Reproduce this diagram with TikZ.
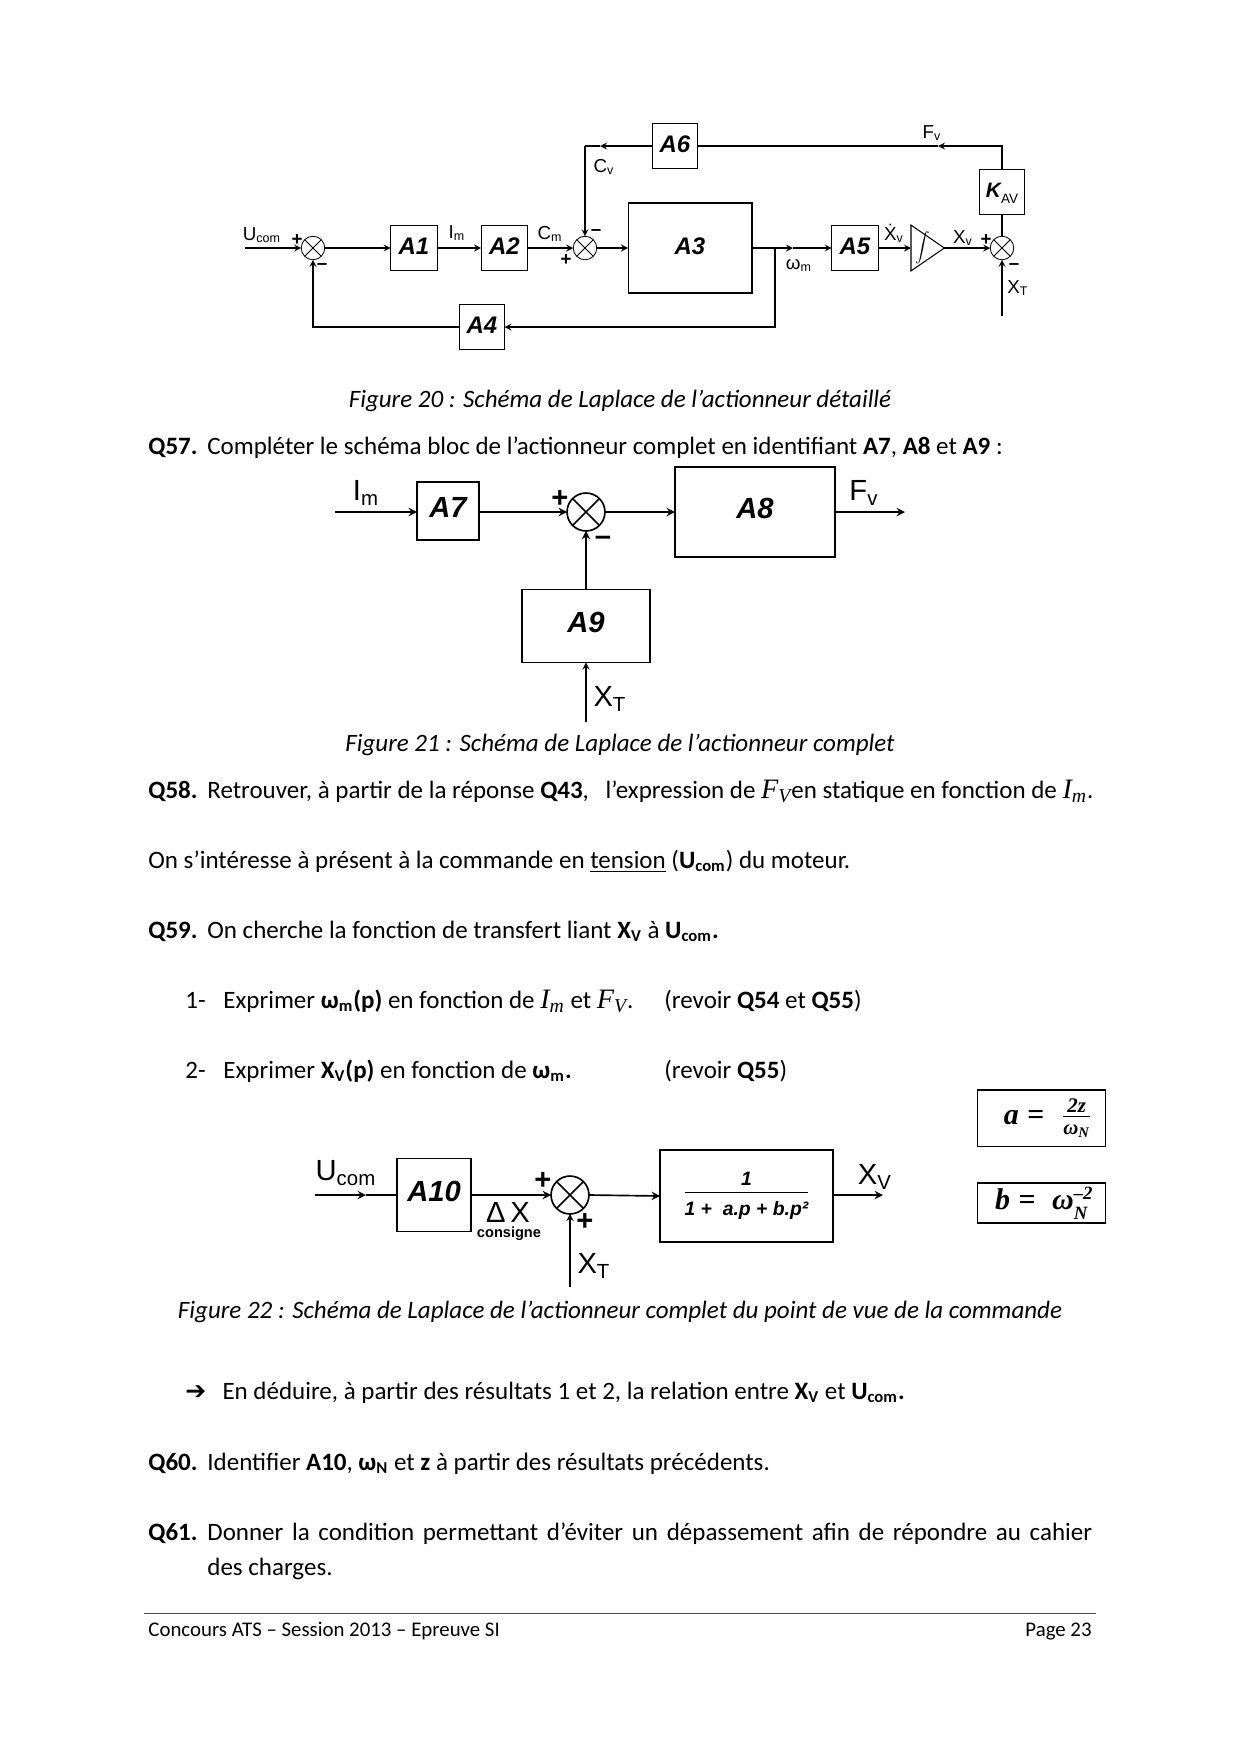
\documentclass[tikz,border=0pt]{standalone}
\usepackage{amsmath}
\usepackage{fontspec}
\setmainfont{Carlito}
\setsansfont{Liberation Sans}
\newfontfamily\symbolfont{DejaVu Sans}
\newfontfamily\formulafont{Liberation Serif}
\usetikzlibrary{shapes.geometric, arrows, positioning}
\newcommand{\qnum}[1]{\makebox[28.3pt][l]{\textbf{#1}}}
\newcommand{\lsub}[1]{\textsubscript{#1}}
\newcommand{\fm}[1]{\text{\formulafont\bfseries\itshape #1}}
\newcommand{\vari}[1]{\text{\formulafont\itshape #1}}
\newcommand{\varsub}[2]{{\fontsize{13.5}{14}\selectfont$\vari{#1}_{\vari{#2}}$}}

\begin{document}
\begin{tikzpicture}[
    x=0.48pt, y=-0.48pt,
    block/.style={rectangle, draw, line width=0.5pt, inner sep=0pt, outer sep=0pt, text depth=2pt, font=\sffamily\bfseries\itshape\fontsize{11.5}{13}\selectfont},
    bigblock/.style={block, line width=0.8pt, text depth=3.5pt, font=\sffamily\bfseries\itshape\fontsize{14}{16}\selectfont},
    sumnode/.style={circle, draw, inner sep=0pt, outer sep=0pt, minimum size=#1, path picture={
        \draw (path picture bounding box.north west) -- (path picture bounding box.south east);
        \draw (path picture bounding box.north east) -- (path picture bounding box.south west);}},
    integ/.style={isosceles triangle, isosceles triangle stretches, draw, line width=0.5pt, inner sep=0pt, outer sep=0pt, minimum width=22pt, minimum height=16pt},
    arrow/.style={->, >=stealth, line width=0.5pt},
    bigarrow/.style={->, >=stealth, line width=0.8pt},
    link/.style={line width=0.5pt},
    biglink/.style={line width=0.8pt},
    lab/.style={inner sep=0pt, font=\sffamily\fontsize{9}{11}\selectfont},
    biglab/.style={inner sep=0pt, font=\sffamily\fontsize{14}{16}\selectfont},
    sign/.style={inner sep=0pt, font=\sffamily\bfseries\fontsize{9}{11}\selectfont},
    bigsign/.style={inner sep=0pt, font=\sffamily\bfseries\fontsize{14}{16}\selectfont},
    txt/.style={inner sep=0pt, anchor=base west, font=\fontsize{12}{14}\selectfont},
    caption/.style={inner sep=0pt, anchor=base, font=\itshape\fontsize{12}{14}\selectfont},
    formula/.style={rectangle, draw, line width=0.5pt, outer sep=0pt, inner ysep=0pt, inner xsep=6pt, text width=49pt, align=right, font=\fontsize{14.4}{16}\selectfont}
]
    \useasboundingbox (0,0) rectangle (1240,1754);

    % Figure 20
    \coordinate (ucomin) at (245,248);
    \node[sumnode=11.3pt] (sum1) at (313,248) {};
    \node[block, minimum width=22.4pt, minimum height=22pt] (a1) at (414,248) {A1};
    \node[block, minimum width=22.4pt, minimum height=22pt, right=21pt of a1] (a2) {A2};
    \node[sumnode=11.3pt] (sum2) at (585,248) {};
    \node[block, minimum width=59.5pt, minimum height=43.2pt] (a3) at (690,248) {A3};
    \node[block, minimum width=22.4pt, minimum height=22pt] (a5) at (855,248) {A5};
    \node[integ, anchor=lower side] (integ) at (911,248) {};
    \node[inner sep=0pt, font=\fontsize{10}{12}\selectfont] (intsign) at (923,248) {\scalebox{0.7}{$\displaystyle\int$}};
    \node[sumnode=11.3pt] (sum3) at (1002,248) {};
    \node[block, minimum width=21.6pt, minimum height=22pt, font=\sffamily\bfseries\itshape\fontsize{10}{12}\selectfont] (kav) at (1002,192) {K\raisebox{-3pt}{\sffamily\mdseries\upshape\fontsize{6.5}{7}\selectfont AV}};
    \node[block, minimum width=21.6pt, minimum height=22pt] (a6) at (675,146) {A6};
    \node[block, minimum width=21.6pt, minimum height=22pt] (a4) at (482,327) {A4};
    \coordinate (xtin) at (1002,316);
    \coordinate (branch) at (775,248);
    \coordinate (wmark) at (793,248);
    \coordinate (fvmark) at (938,146);
    \coordinate (cvmark) at (600,146);
    \coordinate (cvcorner) at (585,146);

    \draw[arrow] (ucomin) -- (sum1.west);
    \draw[arrow] (sum1.east) -- (a1.west);
    \draw[arrow] (a1.east) -- (a2.west);
    \draw[arrow] (a2.east) -- (sum2.west);
    \draw[arrow] (sum2.east) -- (a3.west);
    \draw[arrow] (a3.east) -- (wmark);
    \draw[arrow] (wmark) -- (a5.west);
    \draw[arrow] (a5.east) -- (integ.lower side);
    \draw[arrow] (integ.apex) -- (sum3.west);
    \draw[arrow] (xtin) -- (sum3.south);
    \draw[link] (sum3.north) -- (kav.south);
    \draw[arrow] (kav.north) |- (fvmark);
    \draw[link] (fvmark) -- (a6.east);
    \draw[arrow] (a6.west) -- (cvmark);
    \draw[link] (cvmark) -- (cvcorner);
    \draw[arrow] (cvcorner) -- (sum2.north);
    \draw[arrow] (branch) |- (a4.east);
    \draw[arrow] (a4.west) -| (sum1.south);

    \node[lab] (ucomlab) at (262,235) {U\lsub{com}};
    \node[sign] (plus1) at (297,240) {+};
    \node[sign] (minus1) at (322,267) {–};
    \node[lab] (imlab) at (457,233) {I\lsub{m}};
    \node[lab] (cmlab) at (550,234) {C\lsub{m}};
    \node[sign] (minus2) at (596,233) {–};
    \node[sign] (plus2) at (566,260) {+};
    \node[lab] (cvlab) at (604,167) {C\lsub{v}};
    \node[lab] (wmlab) at (799,265) {ω\lsub{m}};
    \node[lab] (xdotlab) at (894,233) {\.X\lsub{v}};
    \node[lab] (xvlab) at (963,238) {X\lsub{v}};
    \node[sign] (plus3) at (986,240) {+};
    \node[sign] (minus3) at (1014,267) {–};
    \node[lab] (xtlab) at (1018,288) {X\lsub{T}};
    \node[lab] (fvlab) at (932,133) {F\lsub{v}};
    \node[caption] (cap20) at (620,407) {Figure 20 : Schéma de Laplace de l’actionneur détaillé};

    % Q57
    \node[txt] (q57) at (148,454) {\qnum{Q57.}Compléter le schéma bloc de l’actionneur complet en identifiant \textbf{A7}, \textbf{A8} et \textbf{A9} :};

    % Figure 21
    \coordinate (imin) at (335,512);
    \node[bigblock, minimum width=29.8pt, minimum height=27.8pt] (a7) at (448,511) {A7};
    \node[sumnode=18.2pt, line width=0.8pt] (sum4) at (586,512) {};
    \node[bigblock, minimum width=76.8pt, minimum height=43.2pt] (a8) at (755,512) {A8};
    \coordinate (fvout) at (905,512);
    \node[bigblock, minimum width=61.4pt, minimum height=35pt] (a9) at (586,626) {A9};
    \coordinate (xtin2) at (586,722);

    \draw[bigarrow] (imin) -- (a7.west |- imin);
    \draw[bigarrow] (a7.east |- imin) -- (sum4.west);
    \draw[bigarrow] (sum4.east) -- (a8.west);
    \draw[bigarrow] (a8.east) -- (fvout);
    \draw[bigarrow] (a9.north) -- (sum4.south);
    \draw[arrow] (xtin2) -- (a9.south);

    \node[biglab] (imlab2) at (366,493) {I\lsub{m}};
    \node[bigsign] (plus4) at (560,499) {+};
    \node[bigsign] (minus4) at (603,541) {–};
    \node[biglab] (fvlab2) at (864,493) {F\lsub{v}};
    \node[biglab] (xtlab2) at (610,699) {X\lsub{T}};
    \node[caption] (cap21) at (620,751) {Figure 21 : Schéma de Laplace de l’actionneur complet};

    % Questions
    \node[txt] (q58) at (148,798) {\qnum{Q58.}Retrouver, à partir de la réponse \textbf{Q43},\hspace{8pt}l’expression de \varsub{F}{V}en statique en fonction de \varsub{I}{m}.};
    \node[txt] (intro) at (148,868) {On s’intéresse à présent à la commande en \underline{tension} (\textbf{U\lsub{com}}) du moteur.};
    \node[txt] (q59) at (148,938) {\qnum{Q59.}On cherche la fonction de transfert liant \textbf{X\lsub{V}} à \textbf{U\lsub{com}.}};
    \node[txt] (num1) at (185,1008) {1-};
    \node[txt] (expr1) at (223,1008) {Exprimer \textbf{ω\lsub{m}(p)} en fonction de \varsub{I}{m} et \varsub{F}{V}.};
    \node[txt] (rev1) at (664,1008) {(revoir \textbf{Q54} et \textbf{Q55})};
    \node[txt] (num2) at (185,1078) {2-};
    \node[txt] (expr2) at (223,1078) {Exprimer \textbf{X\lsub{V}(p)} en fonction de \textbf{ω\lsub{m}.}};
    \node[txt] (rev2) at (664,1078) {(revoir \textbf{Q55})};

    % Figure 22
    \node[formula, minimum height=26.9pt] (abox) at (1041.5,1118) {\mbox{$\fm{a}\;\fm{=}\;\;\frac{\fm{2z}}{\fm{ω}_{\fm{N}}}$}};
    \node[formula, minimum height=19.2pt] (bbox) at (1041.5,1203) {\mbox{$\fm{b}\;\fm{=}\;\;\fm{ω}$\rlap{\raisebox{-4.5pt}{\fontsize{9}{10}\selectfont\fm{N}}}\raisebox{5pt}{\fontsize{9}{10}\selectfont\fm{–2}}}};
    \coordinate (ucomin2) at (315,1195);
    \coordinate (umark) at (366,1195);
    \node[bigblock, minimum width=35.5pt, minimum height=35pt] (a10) at (434,1195) {A10};
    \node[sumnode=18.2pt, line width=0.8pt] (sum5) at (570,1195) {};
    \node[bigblock, minimum width=83pt, minimum height=44.2pt, text depth=, font=\sffamily\bfseries\itshape\fontsize{9.3}{11}\selectfont] (a11) at (746.5,1196) {\raisebox{-3.5pt}{\begin{tabular}{@{}c@{}}1\\ \hline \rule{0pt}{11pt}1 +\ \ a.p + b.p²\end{tabular}}};
    \coordinate (xvout) at (883,1195);
    \coordinate (xtin3) at (570,1287);

    \draw[bigarrow] (ucomin2) -- (umark);
    \draw[biglink] (umark) -- (a10.west);
    \draw[bigarrow] (a10.east) -- (sum5.west);
    \draw[bigarrow] (sum5.east) -- (a11.west);
    \draw[bigarrow] (a11.east |- xvout) -- (xvout);
    \draw[arrow] (xtin3) -- (sum5.south);

    \node[biglab] (ucomlab2) at (346,1173) {U\lsub{com}};
    \node[biglab] (deltalab) at (508,1212) {Δ\,X};
    \node[inner sep=0pt, font=\sffamily\bfseries\fontsize{7}{8}\selectfont] (conslab) at (509,1234) {consigne};
    \node[bigsign] (plus5) at (543,1181) {+};
    \node[bigsign] (plus6) at (585,1222) {+};
    \node[biglab] (xtlab3) at (594,1266) {X\lsub{T}};
    \node[biglab] (xvlab2) at (875,1177) {X\lsub{V}};
    \node[caption] (cap22) at (620,1318) {Figure 22 : Schéma de Laplace de l’actionneur complet du point de vue de la commande};

    % Questions (suite)
    \node[txt] (deduire) at (185,1399) {\makebox[17.8pt][l]{\symbolfont ➔}En déduire, à partir des résultats 1 et 2, la relation entre \textbf{X\lsub{V}} et \textbf{U\lsub{com}.}};
    \node[txt] (q60) at (148,1470) {\qnum{Q60.}Identifier \textbf{A10}, \textbf{ω\lsub{N}} et \textbf{z} à partir des résultats précédents.};
    \node[txt] (q61) at (148,1540) {\makebox[453pt][s]{\qnum{Q61.}Donner la condition permettant d’éviter un dépassement afin de répondre au cahier}};
    \node[txt] (q61b) at (207,1575) {des charges.};

    % Pied de page
    \coordinate (footl) at (144,1613);
    \coordinate (footr) at (1096,1613);
    \draw[line width=0.5pt, black!70] (footl) -- (footr);
    \node[txt, font=\fontsize{10}{12}\selectfont] (footer) at (148,1636) {Concours ATS – Session 2013 – Epreuve SI};
    \node[txt, anchor=base east, font=\fontsize{10}{12}\selectfont] (page) at (1092,1636) {Page 23};
\end{tikzpicture}
\end{document}
